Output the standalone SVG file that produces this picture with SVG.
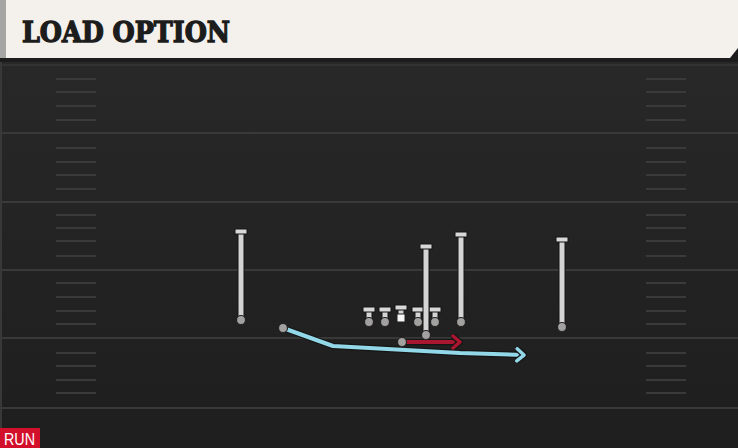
<svg xmlns="http://www.w3.org/2000/svg" width="738" height="448" viewBox="0 0 738 448">
<defs>
<linearGradient id="field" x1="0" y1="0" x2="0" y2="1">
<stop offset="0" stop-color="#282828"/>
<stop offset="1" stop-color="#1e1e1e"/>
</linearGradient>
<marker id="arrRed" markerWidth="14" markerHeight="16" refX="8" refY="8" orient="auto" markerUnits="userSpaceOnUse">
<path d="M2,2 L9,8 L2,14" fill="none" stroke="#151515" stroke-width="6" stroke-linecap="round" stroke-linejoin="round"/>
<path d="M2,2 L9,8 L2,14" fill="none" stroke="#a8162f" stroke-width="3.5" stroke-linecap="round" stroke-linejoin="round"/>
</marker>
<marker id="arrBlue" markerWidth="14" markerHeight="16" refX="8" refY="8" orient="auto" markerUnits="userSpaceOnUse">
<path d="M2,2 L9,8 L2,14" fill="none" stroke="#151515" stroke-width="6" stroke-linecap="round" stroke-linejoin="round"/>
<path d="M2,2 L9,8 L2,14" fill="none" stroke="#93d8e8" stroke-width="3.5" stroke-linecap="round" stroke-linejoin="round"/>
</marker>
</defs>
<style>
.yard{stroke:#393939;stroke-width:2}
.hash{stroke:#3a3a3a;stroke-width:2}
.stemO{stroke:#151515;stroke-width:7;fill:none}
.stem{stroke:#d4d4d4;stroke-width:5;fill:none}
.bar{fill:#d8d8d8;stroke:#151515;stroke-width:1}
.dot{fill:#a3a0a0;stroke:#222;stroke-width:1.2}
.title{font-family:"DejaVu Serif",serif;font-weight:900;font-size:27px;fill:#1c1c1c;stroke:#1c1c1c;stroke-width:1.3}
.tag{font-family:"Liberation Sans",sans-serif;font-size:16px;fill:#ffffff}
</style>
<rect x="0" y="0" width="738" height="448" fill="#1c1c1c"/>
<rect x="0" y="62" width="738" height="386" fill="url(#field)"/>
<rect x="0" y="62" width="2" height="386" fill="#383838"/>
<g id="header">
<path d="M0,0 H738 V48 L730,58 H0 Z" fill="#f4f1ec"/>
<rect x="0" y="0" width="6" height="58" fill="#a5a5a3"/>
<text class="title" x="22" y="42" textLength="208" lengthAdjust="spacingAndGlyphs">LOAD OPTION</text>
</g>
<g id="field-lines">
<line class="yard" x1="0" y1="65" x2="738" y2="65" stroke-opacity="0.6"/>
<line class="yard" x1="0" y1="133" x2="738" y2="133"/>
<line class="yard" x1="0" y1="202" x2="738" y2="202"/>
<line class="yard" x1="0" y1="270" x2="738" y2="270"/>
<line class="yard" x1="0" y1="338" x2="738" y2="338"/>
<line class="yard" x1="0" y1="408" x2="738" y2="408"/>
<g id="hashes">
<path class="hash" d="M56,79H96M56,92H96M56,106H96M56,120H96M56,148H96M56,162H96M56,175H96M56,189H96M56,215H96M56,228H96M56,241H96M56,256H96M56,283H96M56,297H96M56,311H96M56,324H96M56,353H96M56,366H96M56,380H96M56,393H96"/>
<path class="hash" d="M646,79H686M646,92H686M646,106H686M646,120H686M646,148H686M646,162H686M646,175H686M646,189H686M646,215H686M646,228H686M646,241H686M646,256H686M646,283H686M646,297H686M646,311H686M646,324H686M646,353H686M646,366H686M646,380H686M646,393H686"/>
</g>
</g>
<g id="connectors">
<path d="M283,328 L333,346 L460,353 L523,355" fill="none" stroke="#151515" stroke-width="6.5" stroke-linejoin="round"/>
<path d="M283,328 L333,346 L460,353 L523,355" fill="none" stroke="#93d8e8" stroke-width="4" stroke-linejoin="round" marker-end="url(#arrBlue)"/>
<path d="M402,342 L459,342" fill="none" stroke="#151515" stroke-width="6.5"/>
<path d="M402,342 L459,342" fill="none" stroke="#a8162f" stroke-width="4" marker-end="url(#arrRed)"/>
</g>
<g id="wr-left">
<line class="stemO" x1="241" y1="231" x2="241" y2="320"/><line class="stem" x1="241" y1="231" x2="241" y2="320"/>
<rect class="bar" x="235" y="229" width="12" height="5"/>
<circle class="dot" cx="241" cy="320" r="4.5"/>
</g>
<g id="lt">
<line class="stemO" x1="369" y1="309" x2="369" y2="322"/><line class="stem" x1="369" y1="309" x2="369" y2="322"/>
<rect class="bar" x="363" y="307" width="12" height="5"/>
<circle class="dot" cx="369" cy="322" r="4.5"/>
</g>
<g id="lg">
<line class="stemO" x1="385" y1="309" x2="385" y2="322"/><line class="stem" x1="385" y1="309" x2="385" y2="322"/>
<rect class="bar" x="379" y="307" width="12" height="5"/>
<circle class="dot" cx="385" cy="322" r="4.5"/>
</g>
<g id="c">
<line class="stemO" x1="401" y1="307" x2="401" y2="316"/><line class="stem" x1="401" y1="307" x2="401" y2="316"/>
<rect class="bar" x="395" y="305" width="12" height="5"/>
<rect x="397" y="314" width="8" height="8" fill="#f6f6f6" stroke="#222" stroke-width="1"/>
</g>
<g id="rg">
<line class="stemO" x1="418" y1="309" x2="418" y2="322"/><line class="stem" x1="418" y1="309" x2="418" y2="322"/>
<rect class="bar" x="412" y="307" width="12" height="5"/>
<circle class="dot" cx="418" cy="322" r="4.5"/>
</g>
<g id="rt">
<line class="stemO" x1="435" y1="309" x2="435" y2="322"/><line class="stem" x1="435" y1="309" x2="435" y2="322"/>
<rect class="bar" x="429" y="307" width="12" height="5"/>
<circle class="dot" cx="435" cy="322" r="4.5"/>
</g>
<g id="te">
<line class="stemO" x1="426" y1="246" x2="426" y2="335"/><line class="stem" x1="426" y1="246" x2="426" y2="335"/>
<rect class="bar" x="420" y="244" width="12" height="5"/>
<circle class="dot" cx="426" cy="335" r="4.5"/>
</g>
<g id="wing">
<line class="stemO" x1="461" y1="234" x2="461" y2="322"/><line class="stem" x1="461" y1="234" x2="461" y2="322"/>
<rect class="bar" x="455" y="232" width="12" height="5"/>
<circle class="dot" cx="461" cy="322" r="4.5"/>
</g>
<g id="wr-right">
<line class="stemO" x1="562" y1="239" x2="562" y2="327"/><line class="stem" x1="562" y1="239" x2="562" y2="327"/>
<rect class="bar" x="556" y="237" width="12" height="5"/>
<circle class="dot" cx="562" cy="327" r="4.5"/>
</g>
<g id="qb">
<circle class="dot" cx="402" cy="342" r="4.5"/>
</g>
<g id="rb">
<circle class="dot" cx="283" cy="328" r="4.5"/>
</g>
<g id="run-tag">
<rect x="0" y="428" width="40" height="20" fill="#d3102c"/>
<text class="tag" x="4" y="445" textLength="31" lengthAdjust="spacingAndGlyphs">RUN</text>
</g>
</svg>
